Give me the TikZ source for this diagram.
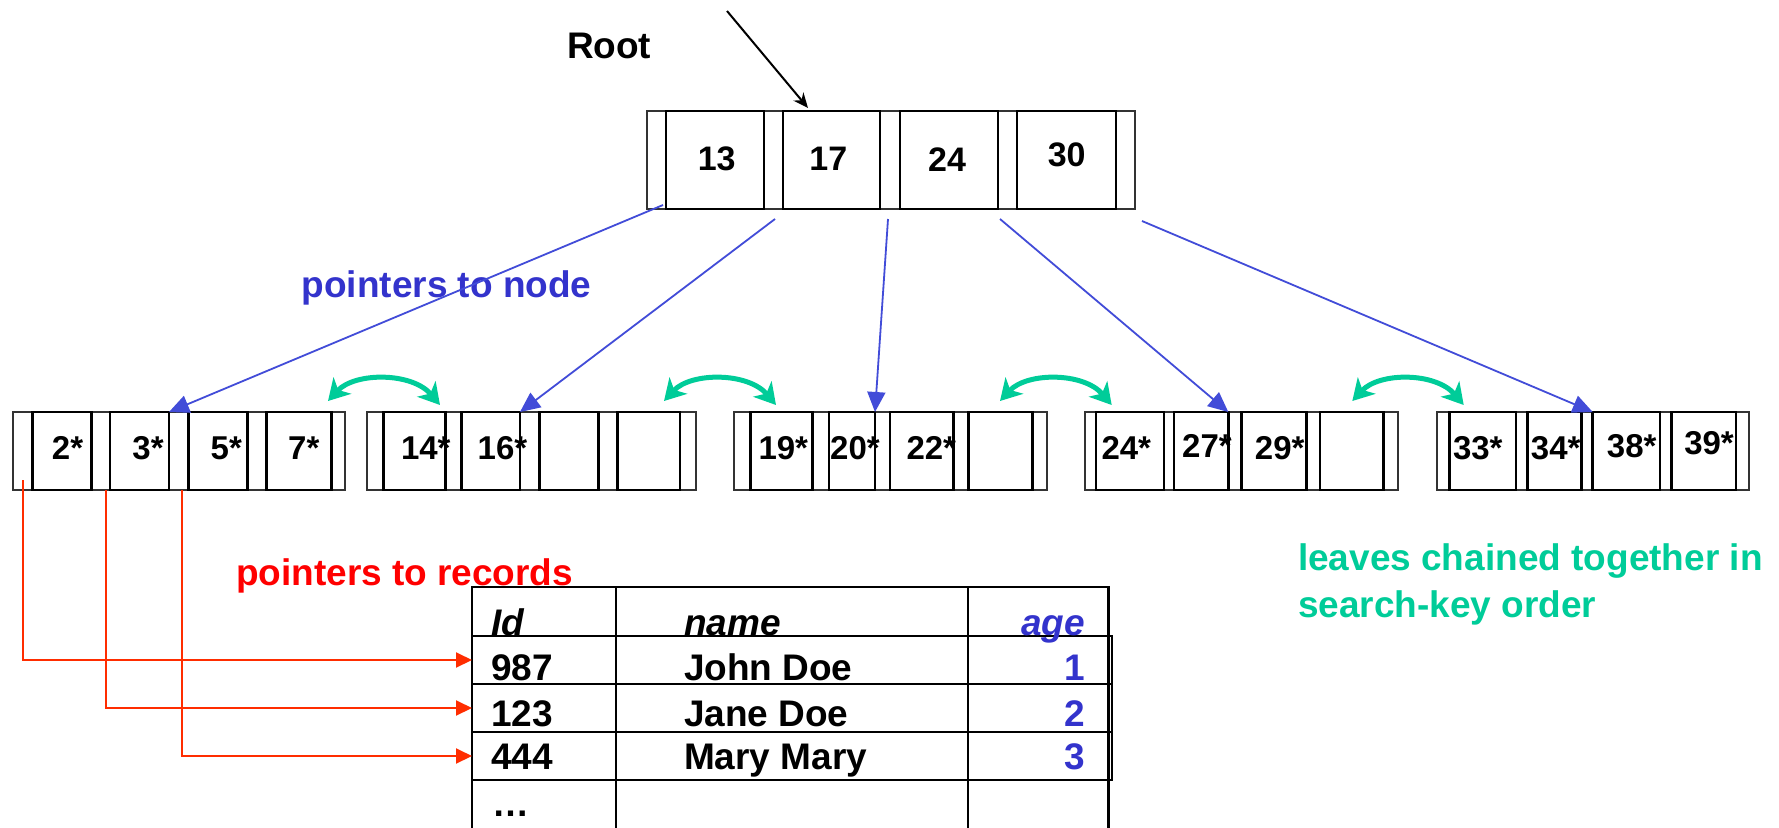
\documentclass[tikz,border=0pt]{standalone}
\usepackage{fontspec}
\setmainfont{Liberation Sans}
\usetikzlibrary{arrows.meta,calc}

\definecolor{ptrblue}{RGB}{66,76,216}
\definecolor{labelblue}{RGB}{51,51,204}
\definecolor{chaingreen}{RGB}{0,204,153}
\definecolor{recred}{RGB}{255,45,0}
\definecolor{labelred}{RGB}{255,0,0}

% \boxat{style}{name}{x1}{x2}{y1}{y2}: a rectangle node spanning the given corners
\newcommand\boxat[6]{%
  \node[#1, minimum width={#4-#3}, minimum height={#6-#5}] (#2) at ({(#3+#4)/2},{(#5+#6)/2}) {};}

\begin{document}
\begin{tikzpicture}[x=1pt, y=-1pt,
  outerbox/.style={draw=black!80, line width=2pt, inner sep=0pt, outer sep=0pt},
  keybox/.style={draw=black, line width=2.8pt, inner sep=0pt, outer sep=0pt},
  tablecell/.style={draw=black, line width=2.4pt, inner sep=0pt, outer sep=0pt},
  rowbox/.style={draw=black, line width=2pt, inner sep=0pt, outer sep=0pt},
  txt/.style={inner sep=0pt, outer sep=0pt, font=\fontsize{#1}{#1}\selectfont\bfseries},
  nodeptr/.style={draw=ptrblue, line width=1.8pt, -{Triangle[length=20pt,width=18pt]}},
  recptr/.style={draw=recred, line width=2pt, -{Triangle[length=16pt,width=15pt]}},
  chainarrow/.style={draw=chaingreen, line width=5pt,
    {Stealth[length=21pt,width=24pt,inset=6pt]}-{Stealth[length=21pt,width=24pt,inset=6pt]}},
  rootarrow/.style={draw=black, line width=2pt, -{Stealth[length=15pt,width=13pt]}}
]
\path[use as bounding box] (0,0) rectangle (1779,827);
\clip (0,0) rectangle (1779,827);
\fill[white] (0,0) rectangle (1779,827);

% ---------- root node ----------
\boxat{outerbox}{root}{646.7}{1135}{111}{209}
\boxat{keybox}{root-k1}{666}{764}{111}{209}
\boxat{keybox}{root-k2}{783}{880}{111}{209}
\boxat{keybox}{root-k3}{900}{998}{111}{209}
\boxat{keybox}{root-k4}{1017}{1116}{111}{209}
\node[txt=34] (root-t1) at (716.7,159) {13};
\node[txt=34] (root-t2) at (828.3,159) {17};
\node[txt=34] (root-t3) at (947,160) {24};
\node[txt=34] (root-t4) at (1066.7,155) {30};

\node[txt=37, anchor=base west] (rootlabel) at (567,58) {Root};
\coordinate (rootsrc) at (727,11);
\draw[rootarrow] (rootsrc) -- ($(root-k2.north west)+(25,-3)$);

% ---------- leaf level ----------
% leaf 1
\boxat{outerbox}{l1}{13.3}{345}{412}{490}
\boxat{keybox}{l1-k1}{32.3}{91.7}{412}{490}
\boxat{keybox}{l1-k2}{110}{169}{412}{490}
\boxat{keybox}{l1-k3}{188.3}{247.7}{412}{490}
\boxat{keybox}{l1-k4}{266.7}{331.7}{412}{490}
% leaf 2
\boxat{outerbox}{l2}{366.7}{696}{412}{490}
\boxat{keybox}{l2-k1}{383.3}{445.7}{412}{490}
\boxat{keybox}{l2-k2}{461.7}{520}{412}{490}
\boxat{keybox}{l2-k3}{539.3}{598.3}{412}{490}
\boxat{keybox}{l2-k4}{617.3}{680}{412}{490}
% leaf 3
\boxat{outerbox}{l3}{734}{1046.7}{412}{490}
\boxat{keybox}{l3-k1}{750.7}{812.3}{412}{490}
\boxat{keybox}{l3-k2}{829}{875}{412}{490}
\boxat{keybox}{l3-k3}{890}{953.3}{412}{490}
\boxat{keybox}{l3-k4}{968.3}{1032.3}{412}{490}
% leaf 4
\boxat{outerbox}{l4}{1085}{1398.3}{412}{490}
\boxat{keybox}{l4-k1}{1096}{1164}{412}{490}
\boxat{keybox}{l4-k2}{1174}{1228.3}{412}{490}
\boxat{keybox}{l4-k3}{1241.7}{1306.7}{412}{490}
\boxat{keybox}{l4-k4}{1320}{1383.3}{412}{490}
% leaf 5
\boxat{outerbox}{l5}{1436.7}{1749.3}{412}{490}
\boxat{keybox}{l5-k1}{1449.3}{1516}{412}{490}
\boxat{keybox}{l5-k2}{1527.7}{1581.7}{412}{490}
\boxat{keybox}{l5-k3}{1592.7}{1660}{412}{490}
\boxat{keybox}{l5-k4}{1671.7}{1736}{412}{490}

% leaf entries
\node[txt=33] (e2)  at (67.5,448)   {2*};
\node[txt=33] (e3)  at (148,448)    {3*};
\node[txt=33] (e5)  at (226.3,448)  {5*};
\node[txt=33] (e7)  at (303.8,448)  {7*};
\node[txt=33] (e14) at (425.8,448)  {14*};
\node[txt=33] (e16) at (502.5,448)  {16*};
\node[txt=33] (e19) at (783.3,448)  {19*};
\node[txt=33] (e20) at (855,448)    {20*};
\node[txt=33] (e22) at (931.3,448)  {22*};
\node[txt=33] (e24) at (1126.3,448) {24*};
\node[txt=33] (e27) at (1207,446)   {27*};
\node[txt=33] (e29) at (1279.7,448) {29*};
\node[txt=33] (e33) at (1477.8,448) {33*};
\node[txt=33] (e34) at (1555.7,448) {34*};
\node[txt=33] (e38) at (1631.7,446) {38*};
\node[txt=33] (e39) at (1709,443)   {39*};

% ---------- labels ----------
\node[txt=37, text=labelblue, anchor=base west] (nodelabel) at (301.7,297) {pointers to node};
\node[txt=37, text=labelred, anchor=base west] (reclabel) at (236,585) {pointers to records};
\node[txt=37, text=chaingreen, anchor=base west] (chainlabel1) at (1298,570) {leaves chained together in};
\node[txt=37, text=chaingreen, anchor=base west] (chainlabel2) at (1298,617) {search-key order};

% ---------- pointers from root to leaves ----------
\coordinate (s1) at ($(root-k1.south west)+(-3,-4)$);
\coordinate (s2) at ($(root-k1.south east)+(11,10)$);
\coordinate (s3) at ($(root-k2.south east)+(8,10)$);
\coordinate (s4) at ($(root-k3.south east)+(2,10)$);
\coordinate (s5) at ($(root.south east)+(7,12)$);
\draw[nodeptr] (s1) -- (l1-k2.north east);
\draw[nodeptr] (s2) -- (l2-k2.north east);
\draw[nodeptr] (s3) -- (l3-k2.north east);
\draw[nodeptr] (s4) -- (l4-k2.north east);
\draw[nodeptr] (s5) -- (l5-k3.north west);

% ---------- sibling chain ----------
\coordinate (g1a) at (328,401);   \coordinate (g1b) at (440,405);
\coordinate (g2a) at (664,401);   \coordinate (g2b) at (776,405);
\coordinate (g3a) at (1000,401);  \coordinate (g3b) at (1111.7,405);
\coordinate (g4a) at (1352.3,401);\coordinate (g4b) at (1463.7,405);
\foreach \i in {1,2,3,4}{
  \draw[chainarrow] (g\i a) .. controls +(27,-29) and +(-28,-33) .. (g\i b);
}

% ---------- record table ----------
\boxat{tablecell}{h-id}{472}{616}{587}{636}
\boxat{tablecell}{h-name}{616}{968}{587}{636}
\boxat{tablecell}{h-age}{968}{1108.5}{587}{636}
\boxat{tablecell}{c1-id}{472}{616}{636}{684}
\boxat{tablecell}{c1-name}{616}{968}{636}{684}
\boxat{tablecell}{c1-age}{968}{1108.5}{636}{684}
\boxat{tablecell}{c2-id}{472}{616}{684}{732}
\boxat{tablecell}{c2-name}{616}{968}{684}{732}
\boxat{tablecell}{c2-age}{968}{1108.5}{684}{732}
\boxat{tablecell}{c3-id}{472}{616}{732}{780}
\boxat{tablecell}{c3-name}{616}{968}{732}{780}
\boxat{tablecell}{c3-age}{968}{1108.5}{732}{780}
\boxat{tablecell}{c4-id}{472}{616}{780}{850}
\boxat{tablecell}{c4-name}{616}{968}{780}{850}
\boxat{tablecell}{c4-age}{968}{1108.5}{780}{850}
\boxat{rowbox}{row1}{472}{1112}{636}{684}
\boxat{rowbox}{row2}{472}{1112}{684}{732}
\boxat{rowbox}{row3}{472}{1112}{732}{780}

\node[txt=37, anchor=base west] (t-id) at (491,635) {\itshape Id};
\node[txt=37, anchor=base west] (t-name) at (684,635) {\itshape name};
\node[txt=37, anchor=base east, text=labelblue] (t-age) at (1085,635) {\itshape age};
\node[txt=37, anchor=base west] (t-id1) at (491,680) {987};
\node[txt=37, anchor=base west] (t-nm1) at (684,680) {John Doe};
\node[txt=37, anchor=base east, text=labelblue] (t-ag1) at (1085,680) {1};
\node[txt=37, anchor=base west] (t-id2) at (491,726) {123};
\node[txt=37, anchor=base west] (t-nm2) at (684,726) {Jane Doe};
\node[txt=37, anchor=base east, text=labelblue] (t-ag2) at (1085,726) {2};
\node[txt=37, anchor=base west] (t-id3) at (491,769) {444};
\node[txt=37, anchor=base west] (t-nm3) at (684,769) {Mary Mary};
\node[txt=37, anchor=base east, text=labelblue] (t-ag3) at (1085,769) {3};
\node[txt=37, anchor=base west] (t-more) at (492,816) {…};

% ---------- pointers from leaf entries to records ----------
\coordinate (r0) at ($(l1.south west)+(9.4,-10)$);
\coordinate (r1) at ($(l1-k1.south east)+(14,0)$);
\coordinate (r2) at ($(l1-k2.south east)+(13,0)$);
\draw[recptr] (r0) |- (row1.west);
\draw[recptr] (r1) |- (row2.west);
\draw[recptr] (r2) |- (row3.west);
\end{tikzpicture}
\end{document}
